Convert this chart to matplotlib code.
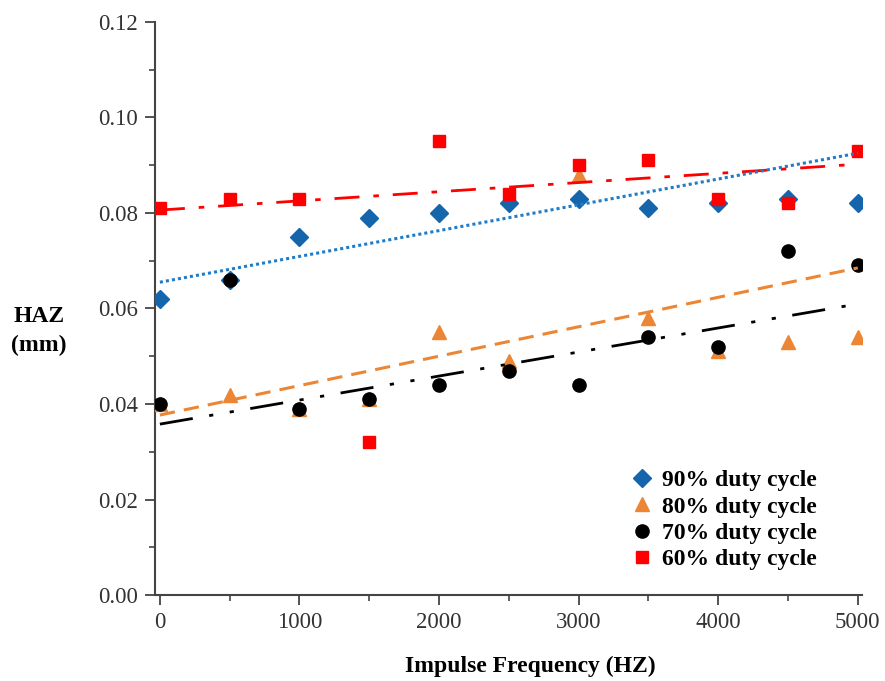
import matplotlib.pyplot as plt

plt.rcParams['font.family'] = ['Liberation Serif', 'DejaVu Serif']

# ----------------------------
# Data
# ----------------------------
freq = [0, 500, 1000, 1500, 2000, 2500, 3000, 3500, 4000, 4500, 5000]

haz_90 = [0.062, 0.066, 0.075, 0.079, 0.080, 0.082, 0.083, 0.081, 0.082, 0.083, 0.082]
haz_80 = [0.040, 0.042, 0.039, 0.041, 0.055, 0.049, 0.088, 0.058, 0.051, 0.053, 0.054]
haz_70 = [0.040, 0.066, 0.039, 0.041, 0.044, 0.047, 0.044, 0.054, 0.052, 0.072, 0.069]
haz_60 = [0.081, 0.083, 0.083, 0.032, 0.095, 0.084, 0.090, 0.091, 0.083, 0.082, 0.093]

# trend lines (values at the two ends)
trend_x = [0, 5000]
trend_90 = [0.0655, 0.0925]
trend_80 = [0.0377, 0.0685]
trend_70 = [0.0358, 0.0607]
trend_60 = [0.0806, 0.0902]
trend_70_x = [0, 4950]

labels = ["90% duty cycle", "80% duty cycle", "70% duty cycle", "60% duty cycle"]

# ----------------------------
# Plot
# ----------------------------
fig = plt.figure(figsize=(8.85, 6.81), dpi=100)
ax = fig.add_axes([0.175, 0.126, 0.799, 0.842])

blue = "#1565ad"
orange = "#ec8634"
red = "#ff0000"

ax.plot(freq, haz_90, "D", color=blue, ms=9.5, label=labels[0], zorder=3)
ax.plot(freq, haz_80, "^", color=orange, ms=10, label=labels[1], zorder=3)
ax.plot(freq, haz_70, "o", color="black", ms=9.5, label=labels[2], zorder=3)
ax.plot(freq, haz_60, "s", color=red, ms=9, label=labels[3], zorder=3)

ax.plot(trend_x, trend_60, color=red, lw=2, ls=(0, (9, 5, 2, 5)), zorder=4)
ax.plot(trend_x, trend_90, color="#1f7cc8", lw=2.2, ls=(0, (1, 1)), zorder=4)
ax.plot(trend_x, trend_80, color=orange, lw=2.2, ls=(0, (5, 3)), zorder=4)
ax.plot(trend_70_x, trend_70, color="black", lw=2, ls=(0, (12, 6, 1.5, 6, 1.5, 6)), zorder=4)

ax.set_xlim(-36, 5030)
ax.set_ylim(0, 0.12)
ax.set_xticks([0, 1000, 2000, 3000, 4000, 5000])
ax.set_xticks([500, 1500, 2500, 3500, 4500], minor=True)
ax.set_yticks([0.00, 0.02, 0.04, 0.06, 0.08, 0.10, 0.12])
ax.set_yticks([0.01, 0.03, 0.05, 0.07, 0.09, 0.11], minor=True)
ax.set_yticklabels(["0.00", "0.02", "0.04", "0.06", "0.08", "0.10", "0.12"])

for s in ["top", "right"]:
    ax.spines[s].set_visible(False)
for s in ["left", "bottom"]:
    ax.spines[s].set_color("#444444")
    ax.spines[s].set_linewidth(1.5)

ax.tick_params(which="major", direction="out", length=7, width=1.3, colors="#444444",
               labelsize=16.5, labelcolor="#333333", pad=5)
ax.tick_params(which="minor", direction="out", length=4, width=1.2, colors="#444444")

fig.text(530 / 885, 1 - 666 / 681, "Impulse Frequency (HZ)", fontsize=17,
         fontweight="bold", ha="center", va="center")
fig.text(0.044, 1 - 331 / 681, "HAZ\n(mm)", fontsize=17, fontweight="bold",
         ha="center", va="center", linespacing=1.45)

ax.legend(loc="lower right", bbox_to_anchor=(0.96, 0.015), frameon=False,
          prop={"size": 17, "weight": "bold"}, handletextpad=0.35,
          labelspacing=0.2, handlelength=1.0, borderpad=0.2)

fig.savefig("out.png", dpi=100)
